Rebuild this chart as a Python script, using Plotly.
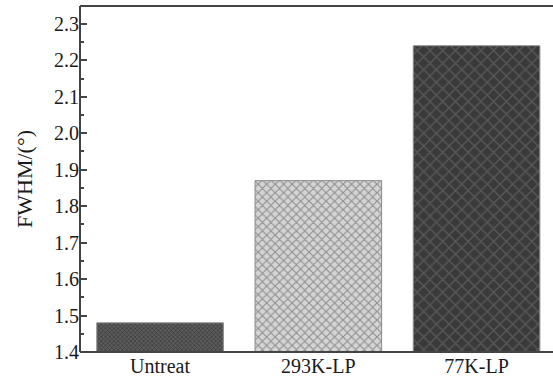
import plotly.graph_objects as go

# FWHM of the diffraction peak for each treatment
samples = ["Untreat", "293K-LP", "77K-LP"]
fwhm = [1.48, 1.87, 2.24]

# fill style per bar: (background, foreground, pattern shape, cell size, solidity)
fills = [
    ("#5c5c5c", "#333333", "x", 3, 0.35),
    ("#d4d4d4", "#909090", "x", 6, 0.35),
    ("#3a3a3a", "#575757", "x", 9, 0.3),
]

fig = go.Figure()
for name, val, (bg, fg, shp, sz, sol) in zip(samples, fwhm, fills):
    fig.add_trace(go.Bar(
        x=[name], y=[val],
        width=0.8,
        marker=dict(
            color=bg,
            line=dict(color="#8c8c8c", width=1),
            pattern=dict(shape=shp, bgcolor=bg, fgcolor=fg,
                         size=sz, solidity=sol, fillmode="replace"),
        ),
        showlegend=False,
    ))

font_family = "Liberation Serif, Times New Roman, serif"
frame = dict(color="#444444", width=2)

# open frame: left, bottom and top edges (the plot runs off to the right)
for x0, x1, y0, y1 in [(0, 0, 0, 1), (0, 1, 0, 0), (0, 1, 1, 1)]:
    fig.add_shape(type="line", xref="paper", yref="paper",
                  x0=x0, x1=x1, y0=y0, y1=y1, line=frame)

fig.update_layout(
    width=553, height=378,
    margin=dict(l=80, r=0, t=6, b=26),
    paper_bgcolor="white", plot_bgcolor="white",
    font=dict(family=font_family, color="#1a1a1a", size=19),
    xaxis=dict(
        range=[-0.506, 2.483],
        showline=False, ticks="", showgrid=False, zeroline=False,
        tickfont=dict(size=20),
    ),
    yaxis=dict(
        range=[1.4, 2.349],
        showline=False,
        ticks="inside", ticklen=7, tickwidth=1.5, tickcolor="#444444",
        dtick=0.1, tick0=1.4, tickformat=".1f",
        minor=dict(ticks="inside", dtick=0.05, ticklen=4, tickwidth=1.5,
                   tickcolor="#444444", showgrid=False),
        showgrid=False, zeroline=False,
        tickfont=dict(size=20),
        title=dict(text="FWHM/(°)", font=dict(size=22), standoff=15),
    ),
)

# hide any full-height edge stroke on the open right side of the plot area
hide_right_edge = """
var gd = document.getElementById('{plot_id}');
gd.querySelectorAll('path, line, rect').forEach(function (el) {
    var r = el.getBoundingClientRect();
    if (r.width < 5 && r.height > 200 && r.left > 500) {
        el.style.display = 'none';
    }
});
"""

fig.write_html("out.html", config={"displayModeBar": False},
               post_script=hide_right_edge)
